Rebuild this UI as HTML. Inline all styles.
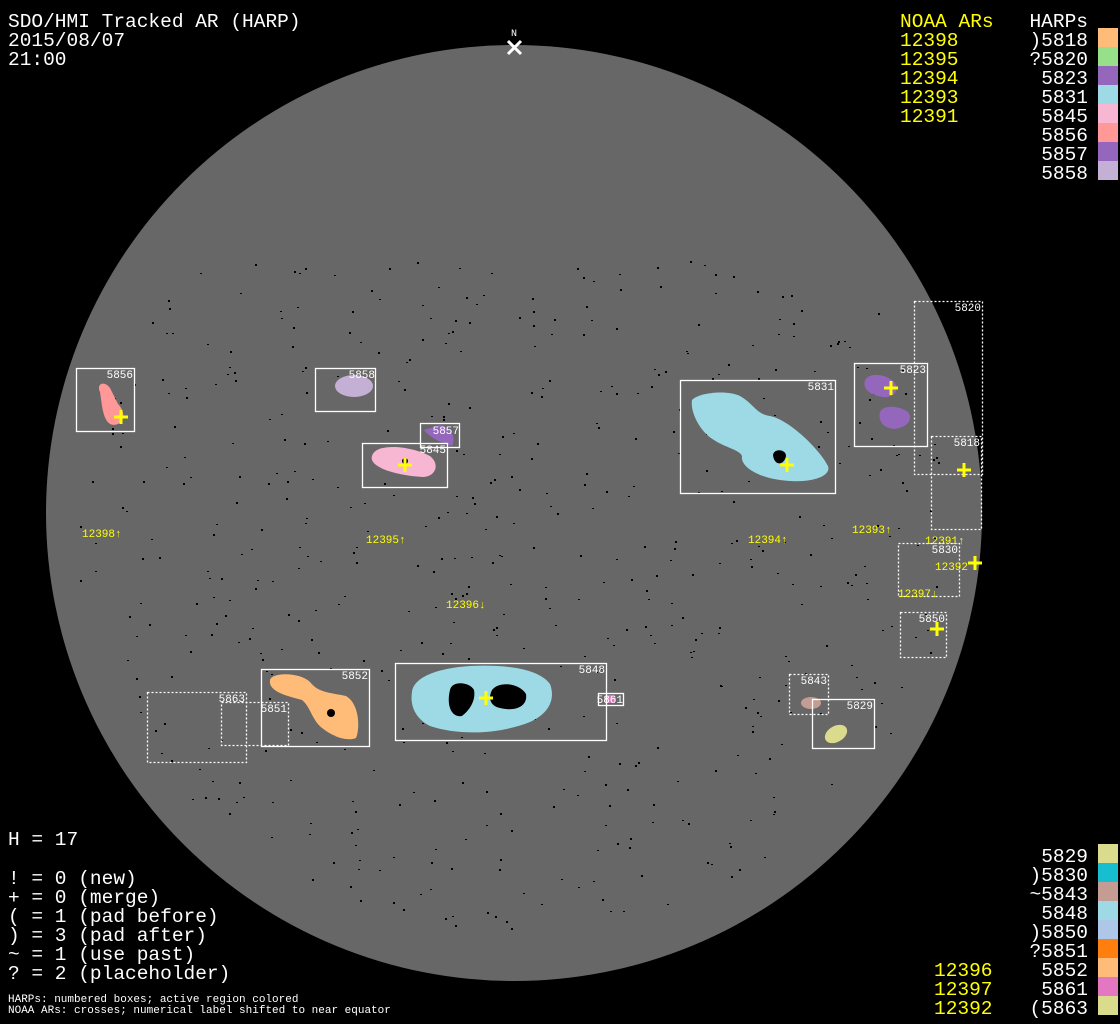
<!DOCTYPE html>
<html><head><meta charset="utf-8"><style>
html,body{margin:0;padding:0;background:#000;width:1120px;height:1024px;overflow:hidden}
svg{display:block}
.t{font-family:"Liberation Mono","DejaVu Sans Mono",monospace;font-size:19.5px;fill:#fff}
.y{fill:#ffff00}
.s{font-family:"Liberation Mono","DejaVu Sans Mono",monospace;font-size:11px;fill:#fff}
.sy{font-family:"Liberation Mono","DejaVu Sans Mono",monospace;font-size:11px;fill:#ffff00}
.b{fill:none;stroke:#fff;stroke-width:1.3}
.d{fill:none;stroke:#fff;stroke-width:1.3;stroke-dasharray:2 2}
.c{stroke:#ffff00;stroke-width:3}
</style></head><body>
<svg id="sv" width="1120" height="1024" viewBox="0 0 1120 1024" xmlns="http://www.w3.org/2000/svg">
<rect width="1120" height="1024" fill="#000"/>
<circle cx="514" cy="513" r="468" fill="#676767"/>
<g id="dots" fill="#000"></g>

<path d="M100,392 C96,384 104,380 110,388 L118,404 C124,410 126,420 118,424 C108,428 104,418 102,406 Z" fill="#ff9896"/>
<ellipse cx="354" cy="386" rx="19" ry="11" fill="#c5b0d5"/>
<path d="M424,430 L440,425 C452,428 456,438 452,446 C444,444 430,438 424,430Z" fill="#9467bd"/>
<path d="M372,456 C376,442 412,446 430,456 C440,464 436,476 424,477 C400,476 368,468 372,456Z" fill="#f7b6d2"/>
<path d="M692,400 C700,392 728,390 740,396 C754,404 756,414 770,416 C790,420 820,450 828,466 C832,478 806,484 780,480 C762,478 740,468 742,456 C740,450 724,447 714,440 C700,432 690,412 692,400Z" fill="#9edae5"/>
<path d="M865,380 C870,372 886,374 894,382 C900,390 894,398 884,397 C872,396 862,390 865,380Z" fill="#9467bd"/>
<path d="M880,412 C884,404 900,406 908,412 C914,420 906,428 894,429 C882,428 878,420 880,412Z" fill="#9467bd"/>
<path d="M270,680 C272,672 300,672 310,682 C318,692 326,692 346,696 C360,704 360,730 356,738 C346,742 332,736 322,728 C312,720 310,706 302,700 C288,696 268,692 270,680Z" fill="#ffbb78"/>
<path d="M412,692 C414,676 440,668 470,666 C510,664 540,670 550,684 C556,700 548,714 530,722 C500,734 460,736 430,726 C414,718 410,704 412,692Z" fill="#9edae5"/>
<ellipse cx="610" cy="699" rx="6" ry="4" fill="#e377c2"/>
<ellipse cx="811" cy="703" rx="10" ry="6" fill="#c49c94"/>
<ellipse cx="836" cy="734" rx="12" ry="8" transform="rotate(-30 836 734)" fill="#dbdb8d"/>
<path d="M450,690 C452,680 470,682 474,690 C476,700 470,710 462,716 C452,718 446,706 450,690Z M492,690 C500,680 520,684 526,694 C528,706 516,712 500,708 C490,706 488,698 492,690Z" fill="#000"/>
<path d="M773,455 C774,448 786,449 786,456 C784,466 774,466 773,455Z" fill="#000"/>
<circle cx="331" cy="713" r="4" fill="#000"/>
<circle cx="405" cy="461" r="3" fill="#000"/>

<rect class="b" x="76.5" y="368.5" width="58" height="63"/>
<rect class="b" x="315.5" y="368.5" width="60" height="43"/>
<rect class="b" x="420.5" y="423.5" width="39" height="24"/>
<rect class="b" x="362.5" y="443.5" width="85" height="44"/>
<rect class="b" x="680.5" y="380.5" width="155" height="113"/>
<rect class="b" x="854.5" y="363.5" width="73" height="83"/>
<rect class="d" x="914.5" y="301.5" width="68" height="173"/>
<rect class="d" x="931.5" y="436.5" width="50" height="93"/>
<rect class="d" x="898.5" y="543.5" width="61" height="53"/>
<rect class="d" x="900.5" y="612.5" width="46" height="45"/>
<rect class="b" x="261.5" y="669.5" width="108" height="77"/>
<rect class="d" x="221.5" y="702.5" width="67" height="43"/>
<rect class="d" x="147.5" y="692.5" width="99" height="70"/>
<rect class="b" x="395.5" y="663.5" width="211" height="77"/>
<rect class="b" x="598.5" y="693.5" width="25" height="12"/>
<rect class="d" x="789.5" y="674.5" width="39" height="40"/>
<rect class="b" x="812.5" y="699.5" width="62" height="49"/>

<g class="s" text-anchor="end">
<text x="133" y="378">5856</text>
<text x="375" y="378">5858</text>
<text x="459" y="434">5857</text>
<text x="446" y="453">5845</text>
<text x="834" y="390">5831</text>
<text x="926" y="373">5823</text>
<text x="981" y="311">5820</text>
<text x="980" y="446">5818</text>
<text x="958" y="553">5830</text>
<text x="945" y="622">5850</text>
<text x="368" y="679">5852</text>
<text x="287" y="712">5851</text>
<text x="245" y="702">5863</text>
<text x="605" y="673">5848</text>
<text x="623" y="703">5861</text>
<text x="827" y="684">5843</text>
<text x="873" y="709">5829</text>
</g>

<g class="c">
<path d="M114,417h14M121,410v14"/>
<path d="M398,465h14M405,458v14"/>
<path d="M780,465h14M787,458v14"/>
<path d="M884,388h14M891,381v14"/>
<path d="M957,470h14M964,463v14"/>
<path d="M968,563h14M975,556v14"/>
<path d="M930,629h14M937,622v14"/>
<path d="M479,698h14M486,691v14"/>
</g>

<g class="sy">
<text x="82" y="537">12398↑</text>
<text x="366" y="543">12395↑</text>
<text x="446" y="608">12396↓</text>
<text x="748" y="543">12394↑</text>
<text x="852" y="533">12393↑</text>
<text x="925" y="544">12391↑</text>
<text x="935" y="570">12392</text>
<text x="898" y="597">12397↓</text>
</g>

<text class="s" x="514" y="36" text-anchor="middle" style="font-size:10px">N</text>
<path d="M508,41l13,13M521,41l-13,13" stroke="#fff" stroke-width="3"/>

<text class="t" x="8" y="27">SDO/HMI Tracked AR (HARP)</text>
<text class="t" x="8" y="46">2015/08/07</text>
<text class="t" x="8" y="65">21:00</text>

<text class="t y" x="900" y="27">NOAA ARs</text>
<text class="t y" x="900" y="46">12398</text>
<text class="t y" x="900" y="65">12395</text>
<text class="t y" x="900" y="84">12394</text>
<text class="t y" x="900" y="103">12393</text>
<text class="t y" x="900" y="122">12391</text>
<g class="t" text-anchor="end">
<text x="1088" y="27">HARPs</text>
<text x="1088" y="46">)5818</text>
<text x="1088" y="65">?5820</text>
<text x="1088" y="84">5823</text>
<text x="1088" y="103">5831</text>
<text x="1088" y="122">5845</text>
<text x="1088" y="141">5856</text>
<text x="1088" y="160">5857</text>
<text x="1088" y="179">5858</text>
</g>
<rect x="1098" y="28" width="20" height="19" fill="#ffbb78"/>
<rect x="1098" y="47" width="20" height="19" fill="#98df8a"/>
<rect x="1098" y="66" width="20" height="19" fill="#9467bd"/>
<rect x="1098" y="85" width="20" height="19" fill="#9edae5"/>
<rect x="1098" y="104" width="20" height="19" fill="#f7b6d2"/>
<rect x="1098" y="123" width="20" height="19" fill="#ff9896"/>
<rect x="1098" y="142" width="20" height="19" fill="#9467bd"/>
<rect x="1098" y="161" width="20" height="19" fill="#c5b0d5"/>

<g class="t" text-anchor="end">
<text x="1088" y="862">5829</text>
<text x="1088" y="881">)5830</text>
<text x="1088" y="900">~5843</text>
<text x="1088" y="919">5848</text>
<text x="1088" y="938">)5850</text>
<text x="1088" y="957">?5851</text>
<text x="1088" y="976">5852</text>
<text x="1088" y="995">5861</text>
<text x="1088" y="1014">(5863</text>
</g>
<text class="t y" x="934" y="976">12396</text>
<text class="t y" x="934" y="995">12397</text>
<text class="t y" x="934" y="1014">12392</text>
<rect x="1098" y="844" width="20" height="19" fill="#dbdb8d"/>
<rect x="1098" y="863" width="20" height="19" fill="#17becf"/>
<rect x="1098" y="882" width="20" height="19" fill="#c49c94"/>
<rect x="1098" y="901" width="20" height="19" fill="#9edae5"/>
<rect x="1098" y="920" width="20" height="19" fill="#aec7e8"/>
<rect x="1098" y="939" width="20" height="19" fill="#ff7f0e"/>
<rect x="1098" y="958" width="20" height="19" fill="#ffbb78"/>
<rect x="1098" y="977" width="20" height="19" fill="#e377c2"/>
<rect x="1098" y="996" width="20" height="19" fill="#dbdb8d"/>

<text class="t" x="8" y="845">H = 17</text>
<text class="t" x="8" y="884">! = 0 (new)</text>
<text class="t" x="8" y="903">+ = 0 (merge)</text>
<text class="t" x="8" y="922">( = 1 (pad before)</text>
<text class="t" x="8" y="941">) = 3 (pad after)</text>
<text class="t" x="8" y="960">~ = 1 (use past)</text>
<text class="t" x="8" y="979">? = 2 (placeholder)</text>
<text class="s" x="8" y="1002">HARPs: numbered boxes; active region colored</text>
<text class="s" x="8" y="1013">NOAA ARs: crosses; numerical label shifted to near equator</text>
</svg>
<script>
(function(){var g=document.getElementById('dots');var s=12345;function r(){s=(s*1103515245+12345)%2147483648;return s/2147483648;}
var h='';for(var i=0;i<650;i++){var a=r()*6.2832,d=Math.sqrt(r())*440;var x=514+d*Math.cos(a),y=513+d*Math.sin(a)*0.9+20;if(y<260||y>940)continue;h+='<rect x="'+x.toFixed(0)+'" y="'+y.toFixed(0)+'" width="2" height="'+(r()<0.5?1:2)+'"/>';}
g.innerHTML=h;})();
</script>
</body></html>
